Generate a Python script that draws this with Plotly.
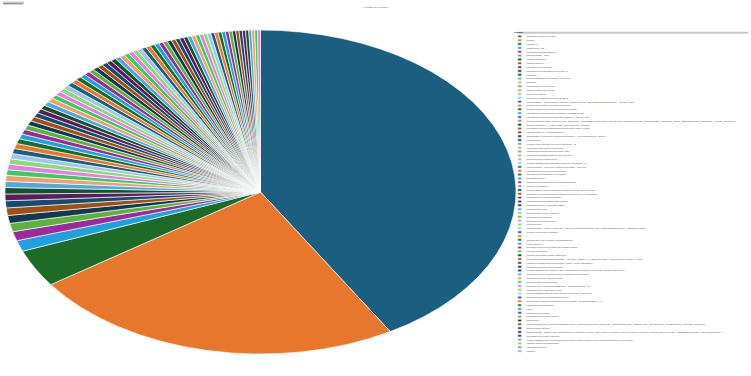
import plotly.graph_objects as go

# ---- data ----
pages = [
    "/home/index.html", "/blog", "/about/", "/contact-us", "/products/widgets",
    "/search?q=tea", "/docs/install", "/login?next=/", "/account/profile",
    "/products/widgets/blue-xl", "/news/", "/blog/2023/05/how-to-start/", "/shop/",
    "/checkout/review/", "/docs/api/v2/auth", "/help/terms", "/products/gadgets/page-2",
    "/search?q=wireless+noise+cancelling+headphones&sort=price_asc",
    "/blog/category/engineering/", "/docs/getting-started/overview/",
    "/products/gadgets/smart-lamp-pro/", "/account/orders/history?page=2&n=50",
    "/landing/spring-sale?utm_source=newsletter&utm_medium=email&utm_campaign=spring_sale_2023&utm_content=hero_banner",
    "/blog/2022/11/ten-tips-for-better-sleep/", "/products/accessories/cables/usb-c-2m",
    "/docs/api/v1/endpoints", "/support/tickets/new?category=billing&prio=high",
    "/careers/", "/blog/tag/productivity/?page=3",
    "/products/new-arrivals", "/docs/guides/migrating-v3/", "/events/2023/webinar-q2-ai/",
    "/partners/resellers/", "/blog/2023/02/announcing-version-4/",
    "/search?q=return+policy&lang=en-us", "/account/billing/invoices/",
    "/products/home/kitchen/", "/newsletter/", "/docs/reference/cli-commands",
    "/legal/privacy/", "/blog/2021/09/remote-work-best-practices",
    "/products/outdoor/camping/tents-4-person/", "/company/leadership/",
    "/downloads/desktop-app/",
    "/community/forum/top/", "/sitemap.xml", "/docs/api/rate-limits", "/press/releases/",
    "/products/sale/50/", "/updates/",
    "/search?q=best+laptop+for+programming+in+2023&category=computers",
    "/blog/archive/2020/", "/", "/support/kb/reset-password/", "/checkout/",
    "/products/electronics/monitors/", "/integrations", "/blog/author/jane-smith/",
    "/products/compare?ids=10432,10877,11205&view=table&currency=usd",
    "/docs/tutorials/building-your-first-widget/",
    "/account/notifications/", "/blog/2023/07/what-we-learned-from-a-year-of-open-source/",
    "/products/fitness/yoga-mats/premium/", "/events/past-webinars/", "/docs/faq/licensing/",
    "/shop/gift-cards?amount=50&design=2", "/company/contact/hq",
    "/blog/2022/03/a-beginners-guide-to-seo/", "/products/bundles/starter/",
    "/support/downloads/drivers?os=windows&v=11", "/docs/changelog/", "/api",
    "/team/careers/", "/products/clearance", "/privacy/",
    "/signup?plan=business&billing=annual&utm_source=google&utm_medium=cpc&utm_campaign=brand_search",
    "/blog/rss/feed/",
    "/search?q=how+to+configure+single+sign+on+with+saml+and+azure+active+directory&type=docs&version=latest&page=1",
    "/products/top-rated/", "/blog/2023/09/introducing-our-new-analytics-dashboard-features/",
    "/docs/sdk/javascript/", "/accessibility", "/jobs/",
]

views = [
    4170, 2390, 375,
    110, 92, 84, 79, 75, 71, 67, 64, 61, 59,
    57, 55, 54, 53, 52, 51, 50, 49, 48, 47,
    46, 45, 44, 44, 43, 42, 42, 41, 40, 40,
    39, 39, 38, 38, 37, 37, 36, 36, 35, 35,
    34, 34, 33, 33, 32, 32, 31, 31, 30, 30,
    29, 29, 29, 28, 28, 27, 27, 27, 26, 26,
    25, 25, 25, 24, 24, 24, 23, 23, 23, 22,
    22, 21, 21, 21, 20, 20, 19, 19, 18, 18,
]

palette = ["#1b5e80", "#e8772e", "#1d6b27", "#1ea1dd", "#9d2a9c", "#5cb23c",
           "#0f3b52", "#a24d15", "#124e6c", "#5d1b5f", "#17512a", "#4fa8e0",
           "#f0a06e", "#3ccb62", "#e77ee3", "#8ed875", "#9cc8ec"]

chart_title = "Views by page"
legend_title = "<b>Page</b>"
corner_label = "Download CSV"

# ---- layout geometry (rendered large, scaled down to 751x376) ----
W, H = 2357, 1861
SX, SY = 751 / W, 376 / H

colors = [palette[i % len(palette)] for i in range(len(pages))]

fig = go.Figure(go.Pie(
    labels=pages,
    values=views,
    marker=dict(colors=colors, line=dict(color="white", width=2.5)),
    textinfo="none",
    sort=True,
    direction="clockwise",
    rotation=0,
    domain=dict(x=[0.0066, 0.6871], y=[0.0292, 0.9949]),
    showlegend=True,
))

fig.update_layout(
    width=W, height=H,
    margin=dict(l=0, r=0, t=140, b=60, autoexpand=False),
    paper_bgcolor="white",
    font=dict(size=11, color="#444"),
    title=dict(text=chart_title, x=0.5, xanchor="center", y=1 - 33 / H,
               yanchor="middle", font=dict(size=12, color="#555")),
    legend=dict(x=0.6835, y=0.994, xanchor="left", yanchor="top",
                title=dict(text=legend_title, font=dict(size=12, color="#333")),
                font=dict(size=11, color="#555"), tracegroupgap=0,
                bgcolor="rgba(0,0,0,0)"),
    shapes=[dict(type="rect", xref="paper", yref="paper",
                 x0=0.6899, x1=0.9962, y0=0.9838, y1=0.9898,
                 fillcolor="#c8c8c8", line=dict(width=0), layer="below")],
    annotations=[dict(text=corner_label, xref="paper", yref="paper",
                      x=0.0038, y=1 + (140 - 16) / 1661, xanchor="left",
                      yanchor="middle", showarrow=False,
                      font=dict(size=9, color="#333"), bgcolor="#c8c8c8")],
)

post = (
    "var gd = document.getElementById('{plot_id}');"
    "document.documentElement.style.overflow='hidden';"
    "document.body.style.margin='0';"
    "document.body.style.overflow='hidden';"
    "var p = gd.parentElement; p.style.width='751px'; p.style.height='376px'; p.style.overflow='hidden';"
    "gd.style.transformOrigin='0 0';"
    "gd.style.transform='scale(%.6f,%.6f)';" % (SX, SY)
)

fig.write_html("out.html", config=dict(displayModeBar=False, responsive=False),
               post_script=post)
